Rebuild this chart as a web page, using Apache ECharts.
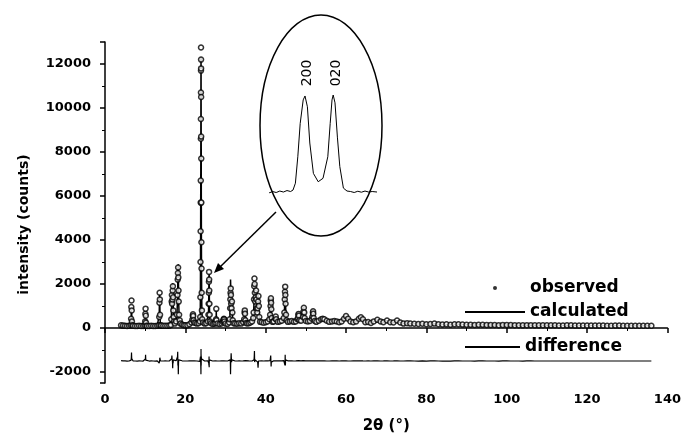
<!DOCTYPE html>
<html lang="en">
<head>
    <meta charset="UTF-8">
    <title>XRD refinement</title>
    <script src="https://cdn.jsdelivr.net/npm/echarts@6/dist/echarts.min.js"></script>
    <style>
        html, body {margin: 0; padding: 0; background: #fff;}
        #main {width: 684px; height: 439px;}
    </style>
</head>
<body>
<div id="main"></div>
<script>
    // 2theta positions (deg)
    let twoTheta = [
        4.0, 4.5, 5.0, 5.5, 6.0, 6.4, 6.5, 6.55, 6.6, 6.65, 6.7, 6.8,
        7.0, 7.5, 8.0, 8.5, 9.0, 9.5, 9.9, 10.0, 10.05, 10.1, 10.15, 10.2, 10.3,
        10.5, 11.0, 11.5, 12.0, 12.5, 13.0, 13.4, 13.5, 13.55, 13.6, 13.65, 13.7, 13.8,
        14.0, 14.5, 15.0, 15.5, 16.0, 16.4, 16.5, 16.6, 16.65, 16.7, 16.8, 16.85, 16.9, 16.95, 17.0, 17.1, 17.2,
        17.4, 17.7, 17.9, 18.05, 18.1, 18.15, 18.2, 18.25, 18.3, 18.35, 18.45, 18.6, 18.8,
        19.2, 19.6, 20.0, 20.5, 21.0, 21.5, 21.75, 21.85, 21.9, 21.95, 22.05, 22.2, 22.5, 22.9, 23.3, 23.6,
        23.70, 23.74, 23.77, 23.80, 23.82, 23.84, 23.86, 23.87, 23.88, 23.89, 23.90, 23.91, 23.92, 23.93, 23.94, 23.96, 23.98, 24.00, 24.03, 24.07, 24.12, 24.20,
        24.4, 24.8, 25.2, 25.6, 25.75, 25.80, 25.84, 25.87, 25.90, 25.93, 25.96, 26.00, 26.05, 26.15, 26.4, 26.8, 27.2, 27.5, 27.65, 27.70, 27.75,
        28.0, 28.5, 29.0, 29.3, 29.45, 29.55, 29.60, 29.65, 29.75, 30.0, 30.5, 30.9, 31.05, 31.15, 31.20, 31.25, 31.30, 31.35, 31.40, 31.50, 31.60, 31.70, 31.80, 32.00,
        32.4, 32.9, 33.4, 33.9, 34.4, 34.65, 34.75, 34.80, 34.85, 34.95, 35.10, 35.4, 35.8, 36.2, 36.6, 36.9,
        37.0, 37.1, 37.15, 37.2, 37.25, 37.3, 37.4, 37.5, 37.6, 37.7, 37.8, 37.9, 38.0, 38.1, 38.2, 38.3, 38.4, 38.6,
        39.0, 39.5, 40.0, 40.5, 40.9, 41.1, 41.2, 41.25, 41.3, 41.35, 41.4, 41.5, 41.7, 42.0, 42.4, 42.5, 42.6, 43.0, 43.5, 44.0, 44.5, 44.65, 44.75, 44.80, 44.85, 44.90, 44.95, 45.05, 45.20, 45.50,
        46.0, 46.5, 47.0, 47.5, 47.9, 48.05, 48.15, 48.20, 48.25, 48.40, 48.8, 49.3, 49.4, 49.5, 49.6, 49.7, 50.0, 50.5, 51.0, 51.5, 51.65, 51.75, 51.80, 51.85, 51.95, 52.20,
        52.6, 53.2, 53.8, 54.2, 54.6, 55.2, 55.8, 56.5, 57.1, 57.7, 58.3, 58.9, 59.5, 60.0, 60.5, 61.1, 61.8, 62.5, 63.2, 63.7, 64.2, 64.8, 65.5, 66.2, 66.9, 67.8, 68.6, 69.3, 70.2, 71.0, 71.8, 72.7, 73.5, 74.3, 75.2,
        76, 77, 78, 79, 80, 81, 82, 83, 84, 85, 86, 87, 88, 89, 90, 91, 92, 93, 94, 95,
        96, 97, 98, 99, 100, 101, 102, 103, 104, 105, 106, 107, 108, 109, 110, 111, 112, 113, 114, 115,
        116, 117, 118, 119, 120, 121, 122, 123, 124, 125, 126, 127, 128, 129, 130, 131, 132, 133, 134, 135, 136
    ];
    // observed counts
    let observed = [
        120, 110, 105, 95, 100, 130, 420, 950, 1250, 800, 300, 120,
        100, 95, 90, 100, 95, 90, 110, 300, 650, 880, 560, 240, 100,
        95, 90, 100, 95, 90, 100, 120, 500, 1150, 1600, 1300, 600, 130,
        110, 100, 105, 100, 110, 140, 400, 1200, 1500, 1100, 1300, 1700, 1900, 1400, 800, 500, 300,
        200, 300, 600, 1500, 2200, 2500, 2750, 2300, 1700, 1200, 600, 350, 200,
        160, 130, 120, 130, 170, 250, 380, 560, 620, 540, 350, 250, 230, 200, 220, 300,
        500, 1400, 3000, 4400, 5700, 6700, 8600, 9500, 10700, 11700, 12750, 12200, 11800, 10500, 8700, 7700, 5700, 3900, 2700, 1600, 800, 400,
        250, 200, 220, 300, 600, 1100, 1600, 2100, 2550, 2200, 1700, 1100, 600, 300, 220, 180, 190, 230, 400, 870, 350,
        200, 180, 210, 280, 330, 400, 420, 390, 300, 200, 180, 250, 400, 900, 1300, 1600, 1800, 1500, 1100, 900, 1200, 700, 350, 220,
        200, 190, 220, 200, 260, 400, 700, 800, 650, 350, 230, 210, 220, 250, 300, 450,
        700, 1300, 1900, 2250, 2000, 1600, 1200, 1400, 1700, 1300, 900, 700, 900, 1200, 1450, 1000, 500, 280,
        260, 240, 260, 300, 400, 600, 1000, 1250, 1350, 1150, 850, 450, 280, 300, 420, 520, 400, 280, 300, 330, 450, 700, 1300, 1650, 1880, 1500, 1100, 600, 350, 280,
        300, 320, 280, 300, 400, 450, 600, 640, 560, 350, 330, 500, 750, 920, 700, 450, 320, 300, 320, 420, 520, 700, 760, 650, 450, 320,
        280, 330, 400, 420, 400, 330, 280, 300, 320, 300, 260, 300, 420, 540, 420, 300, 260, 300, 420, 490, 400, 260, 270, 230, 300, 370, 300, 260, 340, 260, 250, 340, 250, 200, 220,
        200, 190, 180, 190, 170, 185, 200, 175, 160, 165, 150, 170, 170, 155, 150, 145, 140, 150, 150, 140,
        140, 135, 130, 140, 140, 135, 130, 125, 120, 130, 130, 120, 120, 125, 125, 120, 120, 115, 115, 120,
        120, 110, 110, 115, 115, 110, 110, 110, 110, 105, 105, 110, 110, 100, 100, 105, 105, 100, 100, 100, 100
    ];
    // calculated profile
    let calculated = [
        105, 102, 100, 98, 100, 125, 380, 800, 870, 690, 280, 115,
        100, 95, 92, 95, 95, 92, 105, 290, 560, 600, 520, 230, 100,
        95, 92, 96, 95, 93, 98, 118, 600, 1300, 1550, 1150, 500, 125,
        110, 100, 102, 100, 108, 135, 380, 1100, 1250, 1000, 1350, 2030, 1900, 1500, 750, 450, 280,
        200, 290, 550, 1300, 1780, 2700, 2800, 2900, 1800, 1150, 560, 330, 190,
        150, 125, 120, 130, 160, 240, 360, 520, 590, 540, 360, 240, 220, 200, 220, 320,
        480, 1350, 2800, 4300, 5600, 6900, 8800, 9900, 11300, 12100, 12200, 12300, 11500, 10200, 8900, 7600, 5500, 3800, 2600, 1500, 760, 380,
        240, 200, 210, 290, 580, 1050, 1700, 2300, 2350, 2480, 1650, 1050, 580, 290, 220, 180, 185, 225, 380, 800, 340,
        200, 180, 205, 275, 320, 390, 420, 380, 290, 200, 180, 240, 380, 850, 1350, 2200, 1850, 1400, 750, 950, 1150, 720, 340, 210,
        200, 190, 215, 200, 255, 380, 650, 800, 700, 330, 220, 210, 215, 245, 300, 440,
        680, 1250, 1700, 1800, 2050, 1650, 1150, 1380, 1650, 1250, 880, 700, 950, 1500, 1450, 1000, 480, 270,
        255, 240, 255, 295, 390, 580, 950, 1000, 1350, 1400, 900, 430, 270, 290, 400, 500, 390, 280, 290, 320, 430, 680, 1250, 1850, 1600, 1700, 1050, 580, 340, 270,
        295, 310, 280, 295, 390, 440, 580, 690, 540, 340, 320, 480, 700, 960, 650, 430, 310, 295, 315, 410, 500, 680, 800, 620, 430, 310,
        275, 325, 395, 415, 395, 330, 280, 295, 318, 298, 260, 295, 415, 530, 420, 300, 258, 296, 412, 480, 398, 260, 266, 230, 296, 362, 300, 258, 334, 260, 248, 334, 250, 200, 216,
        196, 190, 182, 186, 172, 182, 195, 176, 162, 164, 152, 166, 168, 156, 150, 146, 142, 148, 148, 141,
        140, 136, 132, 138, 138, 134, 130, 126, 122, 128, 128, 121, 121, 124, 124, 120, 120, 116, 116, 119,
        119, 111, 111, 114, 114, 110, 110, 110, 110, 106, 106, 109, 109, 101, 101, 104, 104, 100, 100, 100, 100
    ];
    // difference curve, plotted around -1500
    let difference = [
        -1485, -1492, -1495, -1503, -1500, -1495, -1460, -1350, -1120, -1390, -1480, -1495,
        -1500, -1500, -1502, -1495, -1500, -1502, -1495, -1490, -1410, -1220, -1460, -1490, -1500,
        -1500, -1502, -1496, -1500, -1503, -1498, -1498, -1600, -1650, -1450, -1350, -1400, -1495,
        -1500, -1500, -1497, -1500, -1498, -1495, -1480, -1400, -1250, -1400, -1550, -1830, -1500, -1600, -1450, -1450, -1480,
        -1500, -1490, -1450, -1300, -1080, -1700, -1550, -2100, -1600, -1450, -1460, -1480, -1490,
        -1490, -1495, -1500, -1500, -1490, -1490, -1480, -1460, -1470, -1500, -1510, -1490, -1490, -1500, -1500, -1520,
        -1480, -1450, -1300, -1400, -1400, -1700, -1700, -1900, -2100, -1900, -950, -1600, -1200, -1200, -1700, -1400, -1300, -1400, -1400, -1400, -1460, -1480,
        -1490, -1500, -1490, -1490, -1480, -1450, -1600, -1700, -1300, -1780, -1450, -1450, -1480, -1490, -1500, -1500, -1495, -1495, -1480, -1430, -1490,
        -1500, -1500, -1495, -1495, -1490, -1490, -1500, -1490, -1490, -1500, -1500, -1490, -1480, -1450, -1550, -2100, -1550, -1400, -1150, -1550, -1450, -1520, -1490, -1490,
        -1500, -1500, -1495, -1500, -1495, -1480, -1450, -1500, -1550, -1480, -1490, -1500, -1495, -1495, -1500, -1490,
        -1480, -1450, -1300, -1050, -1550, -1550, -1450, -1480, -1450, -1450, -1480, -1500, -1550, -1800, -1500, -1500, -1480, -1490,
        -1495, -1500, -1495, -1495, -1490, -1480, -1450, -1250, -1500, -1750, -1550, -1480, -1490, -1490, -1480, -1480, -1490, -1500, -1490, -1490, -1480, -1480, -1450, -1700, -1220, -1700, -1450, -1480, -1490, -1490,
        -1495, -1490, -1500, -1495, -1490, -1490, -1480, -1550, -1480, -1490, -1490, -1480, -1450, -1540, -1450, -1480, -1490, -1495, -1495, -1490, -1480, -1480, -1540, -1470, -1480, -1490,
        -1495, -1495, -1495, -1495, -1495, -1500, -1500, -1495, -1498, -1498, -1500, -1495, -1495, -1490, -1500, -1500, -1498, -1496, -1492, -1490, -1498, -1500, -1496, -1500, -1496, -1492, -1500, -1498, -1494, -1500, -1498, -1494, -1500, -1500, -1496,
        -1496, -1500, -1502, -1496, -1502, -1497, -1495, -1501, -1502, -1499, -1502, -1496, -1498, -1501, -1500, -1501, -1502, -1498, -1498, -1501,
        -1500, -1501, -1502, -1498, -1498, -1499, -1500, -1501, -1502, -1498, -1498, -1501, -1501, -1499, -1499, -1500, -1500, -1501, -1501, -1499,
        -1499, -1501, -1501, -1499, -1499, -1500, -1500, -1500, -1500, -1501, -1501, -1499, -1499, -1501, -1501, -1499, -1499, -1500, -1500, -1500, -1500
    ];
    // inset: 200 / 020 doublet (relative intensity)
    let insetTheta = [25.50, 25.53, 25.56, 25.59, 25.62, 25.65, 25.68, 25.70, 25.72, 25.74, 25.76, 25.785, 25.80, 25.82, 25.84, 25.87, 25.91, 25.95, 25.99, 26.01, 26.025, 26.035, 26.05, 26.07, 26.09, 26.12, 26.15, 26.18, 26.21, 26.24, 26.27, 26.30, 26.33, 26.36, 26.40];
    let insetCounts = [0, 1.5, 0.5, 2, 1, 2.5, 1.5, 3, 10, 37, 71, 95, 99, 88, 51, 20, 11.5, 15, 37, 71, 95, 100, 92, 57, 27, 5, 2, 1.5, 0.5, 1.8, 0.8, 2, 1, 1.5, 1];
    let insetLabels = ['200', '020'];
    let xTicks = [0, 140, 20];
    let yTicks = [-2500, 13000];

    let font = 'DejaVu Sans';
    let myChart = echarts.init(document.getElementById('main'), null, {renderer: 'canvas'});

    let obsData = twoTheta.map((x, i) => [x, observed[i]]);
    let calcData = twoTheta.map((x, i) => [x, calculated[i]]);
    let diffData = twoTheta.map((x, i) => [x, difference[i]]);
    let insetData = insetTheta.map((x, i) => [x, insetCounts[i]]);

    let legendText = {color: '#000', fontFamily: font, fontWeight: 'bold', fontSize: 17, lineHeight: 18};

    let option = {
        animation: false,
        backgroundColor: '#fff',
        grid: [
            {left: 105, right: 11, top: 42, bottom: 53},
            {left: 269, width: 108, top: 95, height: 98}
        ],
        legend: [
            {data: ['observed'], left: 493, top: 279, padding: 0, icon: 'circle', itemWidth: 60, itemHeight: 4,
                itemStyle: {color: '#000', borderWidth: 0}, textStyle: legendText},
            {data: ['calculated'], left: 465, top: 303, padding: 0, icon: 'rect', itemWidth: 60, itemHeight: 2,
                itemStyle: {color: '#000'}, textStyle: legendText},
            {data: ['difference'], left: 465, top: 338, padding: 0, icon: 'rect', itemWidth: 55, itemHeight: 2,
                itemStyle: {color: '#000'}, textStyle: legendText}
        ],
        xAxis: [
            {
                type: 'value', gridIndex: 0, min: xTicks[0], max: xTicks[1], interval: xTicks[2],
                name: '2θ (°)', nameLocation: 'middle', nameGap: 36,
                nameTextStyle: {color: '#000', fontFamily: font, fontWeight: 'bold', fontSize: 15},
                axisLine: {lineStyle: {color: '#000', width: 1.5}},
                axisTick: {inside: false, length: 5, lineStyle: {color: '#000', width: 1.5}},
                minorTick: {show: true, splitNumber: 2, length: 3, lineStyle: {color: '#000', width: 1}},
                axisLabel: {color: '#000', fontFamily: font, fontWeight: 'bold', fontSize: 13, margin: 10},
                splitLine: {show: false}
            },
            {type: 'value', gridIndex: 1, min: insetTheta[0], max: insetTheta[insetTheta.length - 1], show: false}
        ],
        yAxis: [
            {
                type: 'value', gridIndex: 0, min: yTicks[0], max: yTicks[1], splitNumber: 7,
                name: 'intensity (counts)', nameLocation: 'middle', nameGap: 74,
                nameTextStyle: {color: '#000', fontFamily: font, fontWeight: 'bold', fontSize: 14, padding: [0, 24, 0, 0]},
                axisLine: {show: true, lineStyle: {color: '#000', width: 1.5}},
                axisTick: {show: true, inside: false, length: 5, lineStyle: {color: '#000', width: 1.5}},
                minorTick: {show: true, splitNumber: 2, length: 3, lineStyle: {color: '#000', width: 1}},
                axisLabel: {
                    color: '#000', fontFamily: font, fontWeight: 'bold', fontSize: 13, margin: 14,
                    formatter: v => (v % 2000 === 0 ? String(v) : '')
                },
                splitLine: {show: false}
            },
            {type: 'value', gridIndex: 1, min: 0, max: 100, show: false}
        ],
        series: [
            {
                name: 'calculated', type: 'line', xAxisIndex: 0, yAxisIndex: 0, data: calcData,
                symbol: 'none', lineStyle: {color: '#000', width: 1.5}, itemStyle: {color: '#000'}, z: 2
            },
            {
                name: 'observed', type: 'scatter', xAxisIndex: 0, yAxisIndex: 0, data: obsData,
                symbol: 'circle', symbolSize: 5,
                itemStyle: {color: '#fff', borderColor: '#000', borderWidth: 1.5}, z: 3
            },
            {
                name: 'difference', type: 'line', xAxisIndex: 0, yAxisIndex: 0, data: diffData,
                symbol: 'none', lineStyle: {color: '#000', width: 1.2}, itemStyle: {color: '#000'}, z: 2
            },
            {
                name: 'inset', type: 'line', xAxisIndex: 1, yAxisIndex: 1, data: insetData,
                symbol: 'none', lineStyle: {color: '#000', width: 1}, z: 5
            }
        ],
        graphic: [
            // ellipse round the inset
            {type: 'ellipse', shape: {cx: 321, cy: 125.5, rx: 61, ry: 110.5}, z: 10,
                style: {fill: 'none', stroke: '#000', lineWidth: 1.5}},
            // arrow to the peak
            {type: 'line', shape: {x1: 276, y1: 212, x2: 219, y2: 268}, z: 10,
                style: {stroke: '#000', lineWidth: 1.5}},
            {type: 'polygon', shape: {points: [[214, 273], [224, 269], [218, 263]]}, z: 10,
                style: {fill: '#000'}},
            {type: 'text', x: 307, y: 73, rotation: Math.PI / 2, z: 10,
                style: {text: insetLabels[0], fill: '#000', font: '14px "DejaVu Sans"', align: 'center', verticalAlign: 'middle'}},
            {type: 'text', x: 336, y: 73, rotation: Math.PI / 2, z: 10,
                style: {text: insetLabels[1], fill: '#000', font: '14px "DejaVu Sans"', align: 'center', verticalAlign: 'middle'}}
        ]
    };
    myChart.setOption(option);
</script>
</body>
</html>
